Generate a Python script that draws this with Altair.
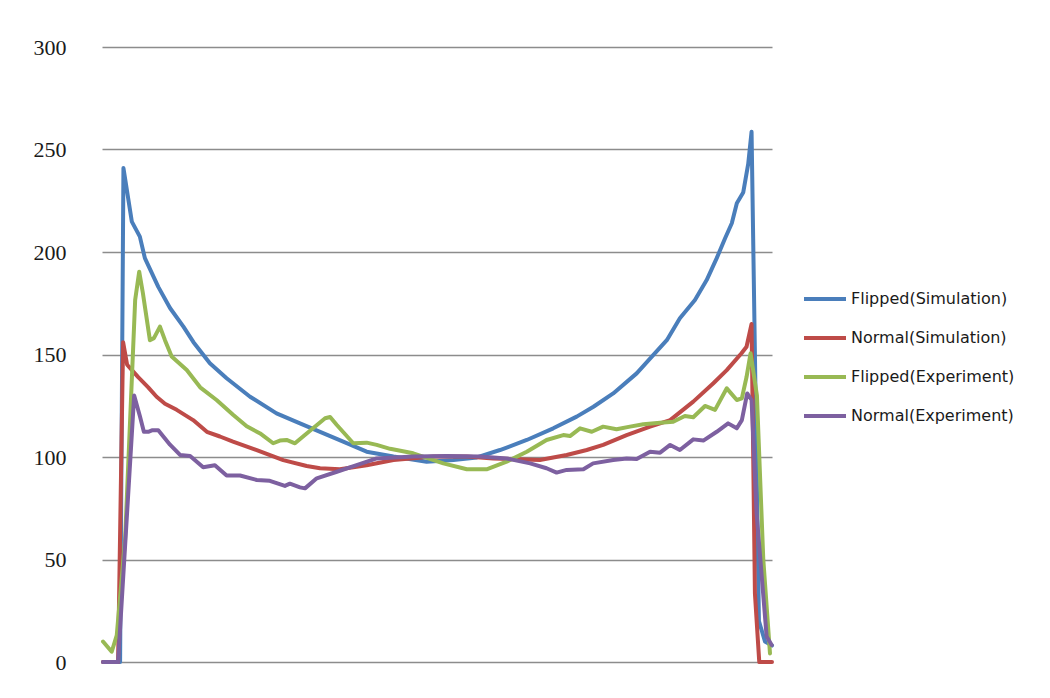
import altair as alt
import pandas as pd

series_names = ["Flipped(Simulation)", "Normal(Simulation)", "Flipped(Experiment)", "Normal(Experiment)"]
series_colors = ["#4A7EBB", "#BE4B48", "#98B954", "#7D60A0"]
y_ticks = [0, 50, 100, 150, 200, 250, 300]

# (position, value) pairs
flipped_sim = [(0.3, 0), (4.8, 0), (5.4, 0), (6.4, 241), (8.9, 214.8), (11.3, 207.5), (12.8, 197),
               (16.8, 183), (20.3, 172.7), (24.3, 163.6), (27.3, 156), (32.2, 145.7), (37.2, 138.4),
               (44.2, 129.4), (52.1, 121.3), (59.1, 116.4), (65.1, 112.3), (72, 107.5), (79, 102.6),
               (87, 100.2), (96.9, 97.7), (104.9, 98.5), (111.9, 99.8), (118.8, 103.4), (126.8, 108.3),
               (134.7, 114), (141.7, 119.7), (146.7, 124.5), (152.6, 131), (159.6, 140.8), (164.6, 149.8),
               (168.6, 157), (172.5, 167.7), (177, 176.6), (180.5, 186.3), (183.5, 197), (186, 206.7),
               (188, 214), (189.5, 223.8), (191.4, 229), (192.9, 243), (193.9, 258.7), (196.1, 20),
               (197.9, 10), (200, 8)]

normal_sim = [(0.3, 0), (4.8, 0), (6.3, 156), (7.5, 145), (8.4, 143.4), (10.8, 139), (13.8, 134),
              (16.3, 129.4), (18.8, 126), (22.3, 123), (27.2, 118), (31.3, 112.3), (35.2, 110),
              (39.1, 107.5), (46.2, 103.4), (54.1, 98.5), (61.1, 95.6), (65.1, 94.5), (71, 94), (79, 96),
              (87, 98.5), (98.9, 100.2), (108.9, 100.2), (116.8, 99.3), (123.8, 98.9), (130.7, 98.5),
              (138.7, 101), (144.7, 103.4), (149.6, 105.9), (156.6, 110.7), (163.6, 114.8), (169.6, 118),
              (176.5, 127), (182.5, 136), (186.5, 142.4), (190.9, 150.6), (192.4, 153.8), (193.9, 164.9),
              (194.9, 33.5), (196.2, 0), (200, 0)]

flipped_exp = [(0.3, 10), (2.9, 5), (4.4, 13), (6.9, 60), (9.9, 176.6), (11.1, 190.4), (12.2, 180),
               (14.3, 157), (15.5, 158), (17.3, 163.6), (18.8, 157), (20.8, 149), (25.3, 142.4), (29.3, 134),
               (34.2, 127.8), (39.2, 120.5), (43.2, 115), (47.2, 111.5), (51.1, 106.7), (53.1, 108),
               (55.1, 108.3), (57.6, 106.7), (61.1, 111.5), (66.6, 118.9), (68.1, 119.5), (70.1, 115.6),
               (75, 106.7), (79, 107), (82, 105.9), (86, 104), (92.9, 101.8), (101.9, 96.9), (108.9, 94),
               (114.8, 94), (120.8, 97.7), (126.8, 102.6), (132.7, 108.3), (137.7, 110.7), (139.7, 110.2),
               (142.7, 114), (146.2, 112.3), (149.6, 114.8), (153.6, 113.5), (157.6, 114.8), (161.6, 116),
               (166.6, 116.7), (170.5, 117.2), (174, 120), (176.5, 119.4), (180, 124.9), (183, 123),
               (186.5, 133.5), (189.5, 127.8), (191, 128.6), (192.4, 139), (193.6, 150.6), (195.5, 130),
               (197.4, 50), (199.4, 4.2)]

normal_exp = [(0.3, 0), (4.8, 0), (9.6, 130), (11.3, 120), (12.5, 112.3), (13.8, 112.3), (14.9, 113),
              (16.8, 113), (20.3, 106), (23.3, 101), (26.3, 100.5), (30.2, 95), (33.7, 96), (37.2, 91),
              (41.2, 91), (46.2, 88.8), (50.1, 88.4), (54.6, 85.9), (56.1, 87), (59.1, 85.2), (60.6, 84.7),
              (64.1, 89.6), (70.1, 92.8), (76, 96), (82, 99.3), (92.9, 100.2), (102.9, 100.5),
              (112.8, 100.2), (120.8, 99.3), (127.8, 96.9), (132.7, 94.5), (135.7, 92.4), (138.7, 93.7),
              (143.7, 94), (146.6, 96.9), (152.6, 98.5), (156.6, 99.3), (159.6, 99), (163.6, 102.6),
              (166.6, 102.1), (169.6, 105.9), (172.5, 103.4), (176.5, 108.6), (179.5, 108), (183.5, 112.3),
              (186.9, 116.4), (189.5, 114), (191, 118), (192.6, 131), (193.9, 127.8), (195.4, 72.5),
              (198.4, 12.4), (199.9, 8.3)]

rows = []
for name, pts in zip(series_names, [flipped_sim, normal_sim, flipped_exp, normal_exp]):
    for p, v in pts:
        rows.append({"series": name, "pos": p, "value": v})
df = pd.DataFrame(rows)

chart = (
    alt.Chart(df)
    .mark_line(strokeWidth=4, strokeJoin="round", strokeCap="round")
    .encode(
        x=alt.X("pos:Q", scale=alt.Scale(domain=[0, 200], nice=False, zero=False), axis=None),
        y=alt.Y(
            "value:Q",
            scale=alt.Scale(domain=[0, 300], nice=False),
            axis=alt.Axis(
                values=y_ticks, title=None, grid=True, gridColor="#8c8c8c", gridWidth=1.5,
                domain=False, ticks=False, labelPadding=36, labelFont="Liberation Serif",
                labelFontSize=22, labelColor="#1a1a1a",
            ),
        ),
        color=alt.Color(
            "series:N",
            sort=series_names,
            scale=alt.Scale(domain=series_names, range=series_colors),
            legend=alt.Legend(
                title=None, orient="none", legendX=700, legendY=229, symbolType="stroke",
                symbolStrokeWidth=4, symbolSize=1764, labelFont="DejaVu Sans", labelFontSize=16,
                labelColor="#1a1a1a", labelOffset=3, rowPadding=8, labelLimit=400,
            ),
        ),
    )
    .properties(
        width=670, height=615,
        padding={"left": 94, "top": 39, "right": 270, "bottom": 28},
        autosize=alt.AutoSizeParams(type="none"),
    )
    .configure_view(stroke=None)
)

chart.save("out.html", embed_options={"renderer": "svg", "actions": False})
